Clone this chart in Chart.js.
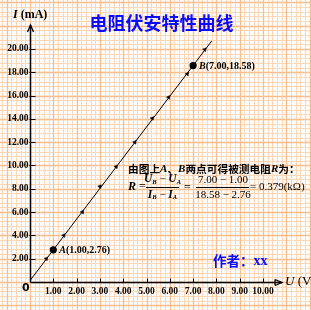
<!DOCTYPE html>
<html><head><meta charset="utf-8">
<script src="https://cdn.jsdelivr.net/npm/chart.js@4"></script>
<style>html,body{margin:0;padding:0;background:#fff;}canvas{display:block;}</style>
</head><body>
<canvas id="c" width="311" height="310"></canvas>
<script>
// ---- data ----
const xTicks = [1,2,3,4,5,6,7,8,9,10];
const yTicks = [2,4,6,8,10,12,14,16,18,20];
const measU = [0.70,1.45,2.25,3.00,3.70,4.50,5.25,5.95,6.75,7.50];
const measI = [2.00,4.00,6.00,8.20,9.90,12.00,14.05,15.85,17.85,19.95];
const fitU = [0.00,7.80];
const fitI = [0.12,20.69];
const keyNames = ['A','B'];
const keyU = [1.00,7.00];
const keyI = [2.76,18.58];

const SERIF = '"Liberation Serif","DejaVu Serif",serif';
const CJK = '"Noto Sans CJK SC","Noto Sans",sans-serif';

const paper = {
  id:'paper',
  beforeDraw(chart){
    const ctx = chart.ctx, xs = chart.scales.x, ys = chart.scales.y;
    const W = chart.width, H = chart.height;
    ctx.save();
    ctx.fillStyle='#fffdfb'; ctx.fillRect(0,0,W,H);
    const x0 = xs.getPixelForValue(0), dx = xs.getPixelForValue(0.2)-x0;
    const y0 = ys.getPixelForValue(0), dy = y0-ys.getPixelForValue(0.4);
    const draw = (major)=>{
      ctx.strokeStyle = major ? '#f8bf8e' : '#fcd8b8';
      ctx.lineWidth = major ? 1.3 : 1;
      ctx.beginPath();
      for(let k=Math.floor(-x0/dx);k*dx+x0<=W;k++){
        if((((k%5)+5)%5===0)!==major) continue;
        const x=Math.round(x0+k*dx)+0.5; ctx.moveTo(x,0); ctx.lineTo(x,H);
      }
      for(let k=Math.floor(-(H-y0)/dy);y0-k*dy>=0;k++){
        if((((k%5)+5)%5===0)!==major) continue;
        const y=Math.round(y0-k*dy)+0.5; ctx.moveTo(0,y); ctx.lineTo(W,y);
      }
      ctx.stroke();
    };
    draw(false); draw(true);
    ctx.restore();
  },
  beforeDatasetsDraw(chart){
    const ctx = chart.ctx, xs = chart.scales.x, ys = chart.scales.y, a = chart.chartArea;
    const ox = Math.round(a.left)+0.5, oy = Math.round(a.bottom)+0.5;
    ctx.save();
    ctx.strokeStyle='#000'; ctx.lineWidth=1.5;
    ctx.beginPath();
    ctx.moveTo(ox,oy); ctx.lineTo(ox,a.top);
    ctx.moveTo(ox,oy); ctx.lineTo(a.right,oy);
    ctx.stroke();
    // arrows
    ctx.lineWidth=1.3;
    ctx.beginPath();
    ctx.moveTo(ox-3,a.top+7); ctx.lineTo(ox,a.top); ctx.lineTo(ox+3,a.top+7);
    ctx.moveTo(a.right-7,oy-3); ctx.lineTo(a.right,oy); ctx.lineTo(a.right-7,oy+3);
    ctx.moveTo(a.right-7,oy-3); ctx.lineTo(a.right-7,oy+3);
    ctx.stroke();
    // tick marks
    ctx.lineWidth=1;
    ctx.beginPath();
    xs.ticks.forEach(t=>{const x=Math.round(xs.getPixelForValue(t.value))+0.5; ctx.moveTo(x,oy); ctx.lineTo(x,oy-4);});
    ys.ticks.forEach(t=>{const y=Math.round(ys.getPixelForValue(t.value))+0.5; ctx.moveTo(ox-1,y); ctx.lineTo(ox+5,y);});
    ctx.stroke();
    ctx.restore();
  },
  afterDraw(chart){
    const ctx = chart.ctx;
    ctx.save();
    ctx.textBaseline='middle';
    const runs=(x,y,list)=>{list.forEach(r=>{ctx.font=r[1]; ctx.fillText(r[0],x,y+(r[2]||0)); x+=ctx.measureText(r[0]).width;}); return x;};
    const width=(list)=>{let w=0; list.forEach(r=>{ctx.font=r[1]; w+=ctx.measureText(r[0]).width;}); return w;};
    // title
    ctx.fillStyle='#0a0aff';
    ctx.font='bold 18px '+CJK; ctx.textAlign='center';
    ctx.fillText('电阻伏安特性曲线',161.5,23);
    ctx.textAlign='left';
    // author
    runs(213,261,[['作者：','bold 13.5px '+CJK],['xx','bold 14px '+SERIF]]);
    // axis titles
    ctx.fillStyle='#000';
    runs(13,15,[['I','bold italic 12px '+SERIF],[' (mA)','bold 12px '+SERIF]]);
    runs(285,282,[['U','italic 13px '+SERIF],[' (V)','13px '+SERIF]]);
    ctx.font='bold 11px "DejaVu Sans",sans-serif';
    ctx.fillText('0',22,288);
    // point labels
    const xs=chart.scales.x, ys=chart.scales.y;
    keyNames.forEach((n,i)=>{
      const px=xs.getPixelForValue(keyU[i])+6, py=ys.getPixelForValue(keyI[i])+0.5;
      runs(px,py,[[n,'bold italic 10px '+SERIF],['('+keyU[i].toFixed(2)+','+keyI[i].toFixed(2)+')','bold 10px '+SERIF]]);
    });
    // annotation
    const cj='bold 10.7px '+CJK, it='bold italic 11px '+SERIF;
    runs(128,169,[['由图上',cj],['A',it],['、',cj],['B',it],['两点可得被测电阻',cj],['R',it],['为：',cj]]);
    const bi='bold italic 11.5px '+SERIF, sub='bold italic 6.5px '+SERIF, rg='11px '+SERIF;
    runs(128,187,[['R','bold italic 12px '+SERIF],[' =','12px '+SERIF]]);
    const num=[['U',bi],['B',sub,2.5],[' − ',rg],['U',bi],['A',sub,2.5]];
    const den=[['I',bi],['B',sub,2.5],[' − ',rg],['I',bi],['A',sub,2.5]];
    runs(162.5-width(num)/2,179.5,num);
    runs(162.5-width(den)/2,195,den);
    ctx.fillRect(146,187,33,1);
    runs(184,187.5,[['=','12px '+SERIF]]);
    const n2=[['7.00 − 1.00',rg]], d2=[['18.58 − 2.76',rg]];
    runs(223-width(n2)/2,180,n2);
    runs(223-width(d2)/2,195,d2);
    ctx.fillRect(196,187,53,1);
    runs(250,187.5,[['= 0.379(kΩ)',rg]]);
    ctx.restore();
  }
};

const toPts=(u,i)=>u.map((v,k)=>({x:v,y:i[k]}));

new Chart(document.getElementById('c'),{
  type:'scatter',
  data:{datasets:[
    {label:'fit',data:toPts(fitU,fitI),showLine:true,borderColor:'#000',borderWidth:1,pointRadius:0,order:3},
    {label:'meas',data:toPts(measU,measI),pointStyle:'triangle',rotation:37,pointRadius:2.2,backgroundColor:'#000',borderColor:'#000',borderWidth:0.5,order:2},
    {label:'key',data:toPts(keyU,keyI),pointRadius:3.6,backgroundColor:'#000',borderColor:'#000',borderWidth:0,order:1}
  ]},
  options:{
    responsive:false,animation:false,devicePixelRatio:1,
    layout:{padding:{top:25,right:29,left:0,bottom:0}},
    plugins:{legend:{display:false},tooltip:{enabled:false},title:{display:false}},
    scales:{
      x:{type:'linear',min:0,max:10.815,
        afterBuildTicks:s=>{s.ticks=xTicks.map(v=>({value:v}));},
        afterFit:s=>{s.height=28;},
        border:{display:false},
        grid:{display:false,drawTicks:false},
        ticks:{autoSkip:false,maxRotation:0,padding:4,color:'#000',font:{family:SERIF,weight:'bold',size:9.5},callback:v=>Number(v).toFixed(2)}
      },
      y:{type:'linear',min:0,max:22.06,
        afterBuildTicks:s=>{s.ticks=yTicks.map(v=>({value:v}));},
        afterFit:s=>{s.width=30;},
        border:{display:false},
        grid:{display:false,drawTicks:false},
        ticks:{autoSkip:false,padding:1.5,color:'#000',font:{family:SERIF,weight:'bold',size:9.5},callback:v=>Number(v).toFixed(2)}
      }
    }
  },
  plugins:[paper]
});
</script>
</body></html>
